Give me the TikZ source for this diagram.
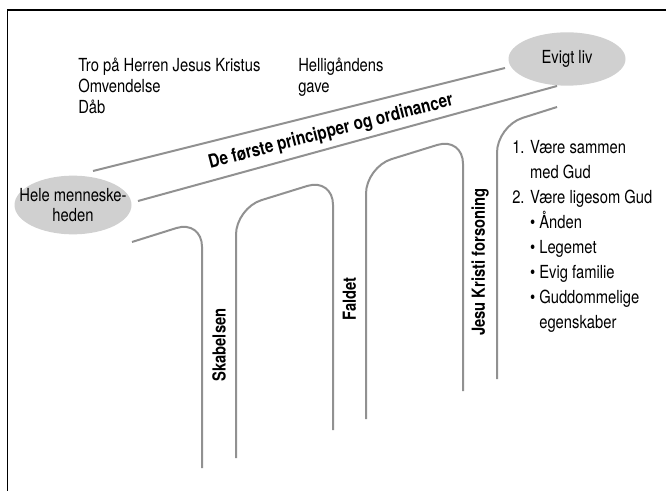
\documentclass[tikz,border=0pt]{standalone}
\usepackage{fontspec}
\setmainfont{TeX Gyre Heros}[FakeStretch=0.82]
\usetikzlibrary{positioning, shapes.geometric}
\definecolor{roadgray}{RGB}{145,145,145}
\definecolor{blobgray}{RGB}{208,208,208}
\newcommand{\diasize}{\fontsize{13.5}{16}\selectfont}

\begin{document}
\begin{tikzpicture}[x=0.75pt,y=-0.75pt,font=\diasize,
    road/.style={draw=roadgray,line width=1.5pt,rounded corners=20pt},
    blob/.style={ellipse,fill=blobgray,inner sep=0pt,minimum width=87.75pt,
      minimum height=40pt},
    blobtext/.style={align=center,font=\fontsize{13.5}{14.5}\selectfont},
    txt/.style={anchor=north west,inner sep=0pt,align=left},
    pillar/.style={font=\diasize\bfseries,rotate=90}]
  \useasboundingbox (0,0) rectangle (666,491);
  \draw[line width=1.1pt] (7.5,491) -- (7.5,10) -- (666,10);

  % the two ends of the way
  \node[blob,minimum height=44pt,label={[blobtext]center:Hele menneske-\\heden}] (hele) at (73,205) {};
  \node[blob,label={[blobtext]center:Evigt liv}] (evigt) at (567,59) {};

  \coordinate (top_a) at (93,171);   \coordinate (top_b) at (505,68);
  \coordinate (low_a) at (138,201);  \coordinate (low_b) at (557,86);
  \draw[road] (top_a) -- (top_b);
  \draw[road] (low_a) -- (low_b);
  \node[font=\fontsize{14}{16}\selectfont\bfseries,rotate=14.5] (vej) at (331,132)
    {De første principper og ordinancer};

  % pillars
  \draw[road] (132,242) -- (202,220) -- (202,468);
  \draw[road] (236,458) -- (236,208) -- (333,178) -- (333,430);
  \draw[road] (366,419) -- (366,167) -- (463,137) -- (463,391);
  \draw[road] (497,379) -- (497,126) -- (557,107);
  \node[pillar] (skab) at (219,345) {Skabelsen};
  \node[pillar] (fald) at (349.5,299) {Faldet};
  \node[pillar] (jesu) at (480,262) {Jesu Kristi forsoning};

  % texts
  \node[txt,font=\fontsize{13.5}{15.75}\selectfont] (tro) at (78,58)
    {Tro på Herren Jesus Kristus\\Omvendelse\\Dåb};
  \node[txt,font=\fontsize{13.5}{15.75}\selectfont] (hellig) at (298,58)
    {Helligåndens\\gave};
  \node[txt,font=\fontsize{13.5}{18.75}\selectfont] (maal) at (512,140)
    {1. Være sammen\\
     \phantom{1. }med Gud\\
     2. Være ligesom Gud\\
     \phantom{2. }\textbullet\ Ånden\\
     \phantom{2. }\textbullet\ Legemet\\
     \phantom{2. }\textbullet\ Evig familie\\
     \phantom{2. }\textbullet\ Guddommelige\\
     \phantom{2. \textbullet\ }egenskaber};
\end{tikzpicture}
\end{document}
